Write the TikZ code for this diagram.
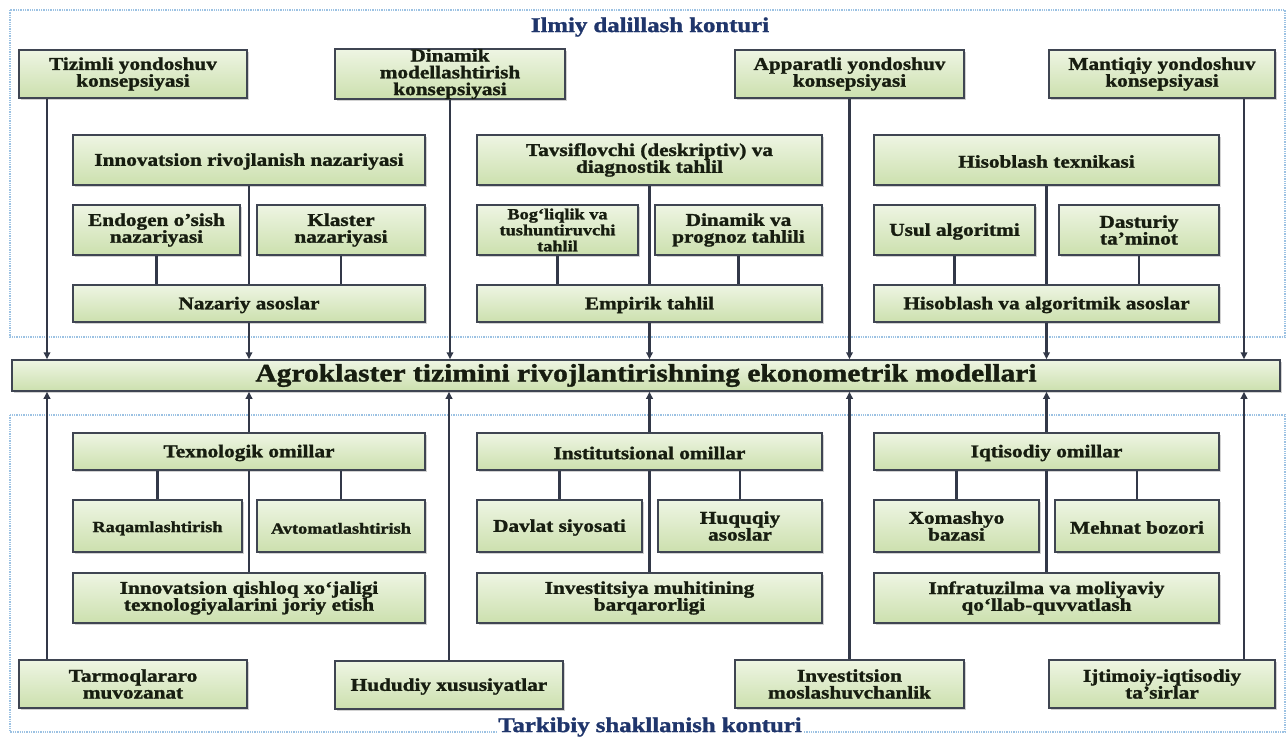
\documentclass[tikz,border=0pt]{standalone}
\usepackage{fontspec}
\setmainfont{Liberation Serif}[FakeStretch=1.18, BoldFeatures={FakeBold=1.4}]
\usetikzlibrary{arrows.meta,shadows}

\definecolor{boxtop}{HTML}{EEF5E3}
\definecolor{boxbot}{HTML}{CCE0AE}
\definecolor{boxline}{HTML}{3F4552}
\definecolor{boxtext}{HTML}{171D10}
\definecolor{linkc}{HTML}{323848}
\definecolor{framec}{HTML}{9CC2E3}
\definecolor{titleblue}{HTML}{1F356B}

\newcommand\lblfont{\bfseries\fontsize{18}{16.8}\selectfont}
\newcommand\smlfont{\bfseries\fontsize{15.5}{16}\selectfont}
\newcommand\barfont{\bfseries\fontsize{25}{26}\selectfont}
\newcommand\ttlfont{\bfseries\fontsize{21}{22}\selectfont}

\tikzset{
  box/.style={draw=boxline, line width=1.5pt, top color=boxtop, bottom color=boxbot,
    text=boxtext, font=\lblfont, align=center, inner sep=0pt,
    execute at begin node={\rule{0pt}{15.5pt}},
    drop shadow={shadow xshift=1.6pt, shadow yshift=-1.6pt, opacity=0.35}},
  wh/.style 2 args={minimum width=#1pt, minimum height=#2pt},
  small/.style={font=\smlfont},
  link/.style={draw=linkc, line width=2.2pt},
  arr/.style={link, -{Triangle[length=7pt,width=6.5pt]}},
  frame/.style={draw=framec, line width=1.3pt, densely dotted},
  ctitle/.style={text=titleblue, font=\ttlfont, fill=white, inner sep=1pt},
}

\begin{document}
\begin{tikzpicture}[x=1pt,y=-1pt]
\useasboundingbox[fill=white] (0,0) rectangle (1287,742);

% contour frames
\draw[frame] (10,10) rectangle (1285,337);
\draw[frame] (10,415) rectangle (1285,732);
\node[ctitle] (ttop) at (650,27) {Ilmiy dalillash konturi};
\node[ctitle] (tbot) at (650,727) {Tarkibiy shakllanish konturi};

% upper contour: concept boxes
\node[box, wh={228}{48}] (tz) at (133,74) {Tizimli yondoshuv\\konsepsiyasi};
\node[box, wh={230}{48}] (dm) at (450,74) {Dinamik\\modellashtirish\\konsepsiyasi};
\node[box, wh={229}{48}] (ap) at (849.5,74) {Apparatli yondoshuv\\konsepsiyasi};
\node[box, wh={226}{48}] (mq) at (1162,74) {Mantiqiy yondoshuv\\konsepsiyasi};

% upper contour: three columns
\node[box, wh={352}{50}] (inr) at (249,160) {Innovatsion rivojlanish nazariyasi};
\node[box, wh={345}{50}] (tav) at (649.5,160) {Tavsiflovchi (deskriptiv) va\\diagnostik tahlil};
\node[box, wh={345}{50}] (hst) at (1046.5,160) {Hisoblash texnikasi};

\node[box, wh={167}{50}] (end) at (156.5,230) {Endogen o’sish\\nazariyasi};
\node[box, wh={168}{50}] (kls) at (341,230) {Klaster\\nazariyasi};
\node[box, small, wh={161}{50}] (bog) at (557.5,230) {Bog‘liqlik va\\tushuntiruvchi\\tahlil};
\node[box, wh={167}{50}] (dpt) at (738.5,230) {Dinamik va\\prognoz tahlili};
\node[box, wh={161}{50}] (usl) at (954.5,230) {Usul algoritmi};
\node[box, wh={160}{50}] (dst) at (1139,230) {Dasturiy\\ta’minot};

\node[box, wh={352}{37}] (naz) at (249,303.5) {Nazariy asoslar};
\node[box, wh={345}{37}] (emp) at (649.5,303.5) {Empirik tahlil};
\node[box, wh={345}{37}] (hal) at (1046.5,303.5) {Hisoblash va algoritmik asoslar};

% central bar
\node[box, font=\barfont, wh={1268}{31}] (bar) at (646,375.5)
  {Agroklaster tizimini rivojlantirishning ekonometrik modellari};

% lower contour: three columns
\node[box, wh={352}{37}] (tex) at (249,451.5) {Texnologik omillar};
\node[box, wh={345}{37}] (ins) at (649.5,451.5) {Institutsional omillar};
\node[box, wh={345}{37}] (iqt) at (1046.5,451.5) {Iqtisodiy omillar};

\node[box, small, wh={169}{52}] (raq) at (157.5,526) {Raqamlashtirish};
\node[box, small, wh={168}{52}] (avt) at (341,526) {Avtomatlashtirish};
\node[box, wh={165}{52}] (dav) at (559.5,526) {Davlat siyosati};
\node[box, wh={164}{52}] (huq) at (740,526) {Huquqiy\\asoslar};
\node[box, wh={165}{52}] (xom) at (956.5,526) {Xomashyo\\bazasi};
\node[box, wh={164}{52}] (meh) at (1137,526) {Mehnat bozori};

\node[box, wh={352}{50}] (inq) at (249,598) {Innovatsion qishloq xo‘jaligi\\texnologiyalarini joriy etish};
\node[box, wh={345}{50}] (inv) at (649.5,598) {Investitsiya muhitining\\barqarorligi};
\node[box, wh={345}{50}] (inf) at (1046.5,598) {Infratuzilma va moliyaviy\\qo‘llab-quvvatlash};

% lower contour: factor boxes
\node[box, wh={228}{48}] (tar) at (133,684) {Tarmoqlararo\\muvozanat};
\node[box, wh={228}{48}] (hud) at (449,685) {Hududiy xususiyatlar};
\node[box, wh={229}{48}] (ivm) at (849.5,684) {Investitsion\\moslashuvchanlik};
\node[box, wh={226}{48}] (ijt) at (1162,684) {Ijtimoiy-iqtisodiy\\ta’sirlar};

% off-centre drop lines
\coordinate (xl) at (47,0);
\coordinate (xr) at (1244,0);

% upper contour connectors
\draw[arr] (tz.south -| xl) -- (bar.north -| xl);
\draw[arr] (dm.south) -- (dm.south |- bar.north);
\draw[arr] (ap.south) -- (ap.south |- bar.north);
\draw[arr] (mq.south -| xr) -- (bar.north -| xr);

\draw[link] (inr.south) -- (naz.north);
\draw[link] (end.south) -- (end.south |- naz.north);
\draw[link] (kls.south) -- (kls.south |- naz.north);
\draw[arr] (naz.south) -- (naz.south |- bar.north);

\draw[link] (tav.south) -- (emp.north);
\draw[link] (bog.south) -- (bog.south |- emp.north);
\draw[link] (dpt.south) -- (dpt.south |- emp.north);
\draw[arr] (emp.south) -- (emp.south |- bar.north);

\draw[link] (hst.south) -- (hal.north);
\draw[link] (usl.south) -- (usl.south |- hal.north);
\draw[link] (dst.south) -- (dst.south |- hal.north);
\draw[arr] (hal.south) -- (hal.south |- bar.north);

% lower contour connectors
\draw[arr] (tar.north -| xl) -- (bar.south -| xl);
\draw[arr] (hud.north) -- (hud.north |- bar.south);
\draw[arr] (ivm.north) -- (ivm.north |- bar.south);
\draw[arr] (ijt.north -| xr) -- (bar.south -| xr);

\draw[arr] (tex.north) -- (tex.north |- bar.south);
\draw[link] (tex.south) -- (inq.north);
\draw[link] (raq.north) -- (raq.north |- tex.south);
\draw[link] (avt.north) -- (avt.north |- tex.south);

\draw[arr] (ins.north) -- (ins.north |- bar.south);
\draw[link] (ins.south) -- (inv.north);
\draw[link] (dav.north) -- (dav.north |- ins.south);
\draw[link] (huq.north) -- (huq.north |- ins.south);

\draw[arr] (iqt.north) -- (iqt.north |- bar.south);
\draw[link] (iqt.south) -- (inf.north);
\draw[link] (xom.north) -- (xom.north |- iqt.south);
\draw[link] (meh.north) -- (meh.north |- iqt.south);
\end{tikzpicture}
\end{document}
